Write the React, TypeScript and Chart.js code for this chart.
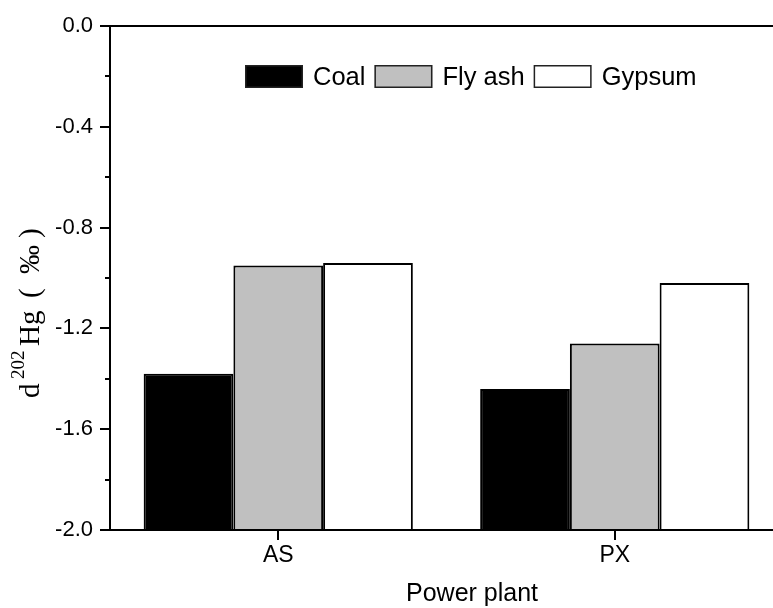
import React, { useEffect, useRef } from 'react';
import { Chart, registerables } from 'chart.js';

Chart.register(...registerables);

const categories = ['AS', 'PX'];
const seriesNames = ['Coal', 'Fly ash', 'Gypsum'];
const coalValues = [-1.38, -1.44];
const flyAshValues = [-0.95, -1.26];
const gypsumValues = [-0.94, -1.02];
const seriesColors = ['#000000', '#c0c0c0', '#ffffff'];
const yMajorTicks = [0, -0.4, -0.8, -1.2, -1.6, -2.0];
const yMinorTicks = [-0.2, -0.6, -1.0, -1.4, -1.8];
const xTitle = 'Power plant';

const SANS = '"Liberation Sans", Arial, sans-serif';
const SERIF = '"Liberation Serif", "Times New Roman", serif';

const decorPlugin = {
  id: 'decor',
  afterDraw(chart: any) {
    const { ctx, chartArea, scales } = chart;
    ctx.save();
    ctx.strokeStyle = '#000';
    ctx.lineWidth = 2;
    // top frame line
    ctx.beginPath();
    ctx.moveTo(chartArea.left - 1, chartArea.top);
    ctx.lineTo(chart.width, chartArea.top);
    ctx.stroke();
    // minor y ticks
    yMinorTicks.forEach((v) => {
      const y = Math.round(scales.y.getPixelForValue(v));
      ctx.beginPath();
      ctx.moveTo(chartArea.left - 5, y);
      ctx.lineTo(chartArea.left, y);
      ctx.stroke();
    });

    // legend
    let lx = 245;
    const boxTop = 65;
    const boxW = 58;
    const boxH = 23;
    ctx.font = `25.5px ${SANS}`;
    ctx.textBaseline = 'middle';
    ctx.textAlign = 'left';
    chart.data.datasets.forEach((ds: any, i: number) => {
      ctx.fillStyle = ds.backgroundColor;
      ctx.fillRect(lx, boxTop, boxW, boxH);
      ctx.lineWidth = 1.5;
      ctx.strokeStyle = '#222';
      ctx.strokeRect(lx + 0.75, boxTop + 0.75, boxW - 1.5, boxH - 1.5);
      ctx.fillStyle = '#000';
      const label = seriesNames[i];
      ctx.fillText(label, lx + boxW + 10, boxTop + boxH / 2 + 1);
      lx += boxW + 10 + ctx.measureText(label).width + 9;
    });

    // x title
    ctx.font = `25px ${SANS}`;
    ctx.textAlign = 'left';
    ctx.textBaseline = 'alphabetic';
    ctx.fillText(xTitle, 406, 601);

    // y title: d ^202 Hg ( ‰)
    ctx.translate(39, 398);
    ctx.rotate(-Math.PI / 2);
    ctx.textAlign = 'left';
    ctx.textBaseline = 'alphabetic';
    ctx.font = `29px ${SERIF}`;
    ctx.fillText('d', 0, 0);
    ctx.font = `19px ${SERIF}`;
    ctx.fillText('202', 19, -15);
    ctx.font = `29px ${SERIF}`;
    ctx.fillText('Hg', 52, 0);
    ctx.fillText('(', 100, 0);
    ctx.fillText('\u2030', 124, 0);
    ctx.fillText(')', 160, 0);
    ctx.restore();
  },
};

export default function App() {
  const canvasRef = useRef<HTMLCanvasElement | null>(null);

  useEffect(() => {
    document.body.style.margin = '0';
    document.body.style.overflow = 'hidden';
    const canvas = canvasRef.current;
    if (!canvas) return;
    const data = [coalValues, flyAshValues, gypsumValues];
    const chart = new Chart(canvas, {
      type: 'bar',
      data: {
        labels: categories,
        datasets: seriesNames.map((name, i) => ({
          label: name,
          data: data[i],
          base: -2,
          backgroundColor: seriesColors[i],
          borderColor: '#000',
          borderWidth: 2,
          borderSkipped: 'bottom',
          barPercentage: 1,
          categoryPercentage: 0.8,
        })),
      },
      options: {
        responsive: false,
        animation: false,
        devicePixelRatio: 1,
        layout: { padding: { top: 26, right: 17, left: 0, bottom: 0 } },
        plugins: { legend: { display: false }, tooltip: { enabled: false } },
        scales: {
          x: {
            type: 'category',
            offset: true,
            z: 1,
            grid: {
              offset: false,
              drawOnChartArea: false,
              tickLength: 10,
              lineWidth: 2,
              color: '#000',
            },
            border: { display: true, color: '#000', width: 2 },
            ticks: {
              font: { family: SANS, size: 23 },
              color: '#000',
              padding: 2,
              maxRotation: 0,
            },
            afterFit: (s: any) => {
              s.height = 78;
            },
          },
          y: {
            min: -2,
            max: 0,
            z: 1,
            afterBuildTicks: (s: any) => {
              s.ticks = yMajorTicks.map((v) => ({ value: v }));
            },
            ticks: {
              font: { family: SANS, size: 22 },
              color: '#000',
              padding: 7,
              callback: (v: any) => Number(v).toFixed(1),
            },
            grid: {
              drawOnChartArea: false,
              tickLength: 10,
              lineWidth: 2,
              color: '#000',
            },
            border: { display: true, color: '#000', width: 2 },
            afterFit: (s: any) => {
              s.width = 110;
            },
          },
        },
      },
      plugins: [decorPlugin],
    });
    return () => chart.destroy();
  }, []);

  return (
    <div style={{ width: 800, height: 608, overflow: 'hidden' }}>
      <canvas ref={canvasRef} width={800} height={608} style={{ display: 'block' }} />
    </div>
  );
}
